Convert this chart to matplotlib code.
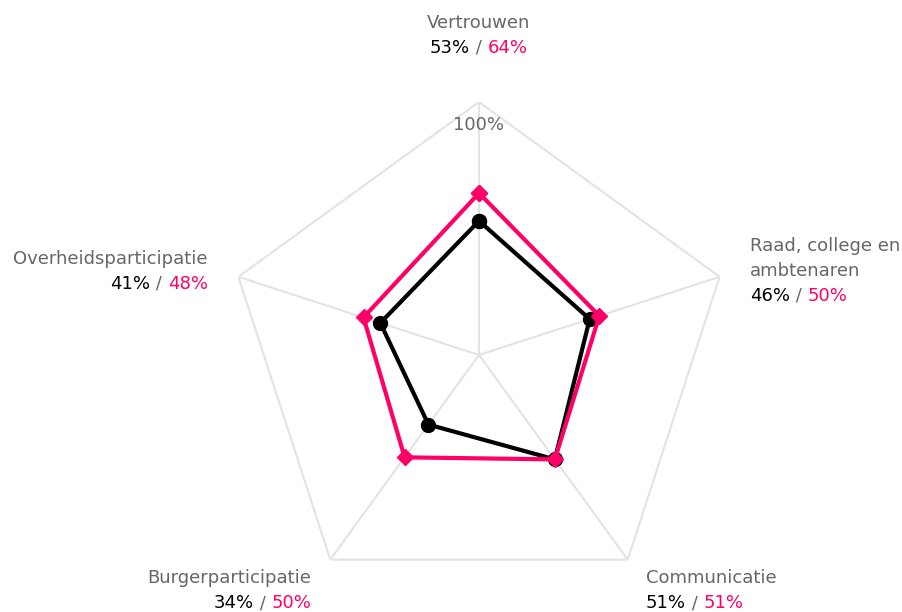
import numpy as np
import matplotlib.pyplot as plt

categories = ['Vertrouwen', 'Raad, college en\nambtenaren', 'Communicatie',
              'Burgerparticipatie', 'Overheidsparticipatie']
series_black = [53, 46, 51, 34, 41]
series_pink = [64, 50, 51, 50, 48]

PINK = '#ff0066'
GRAY = '#666666'
GRID = '#e3e3e3'
FS = 13

fig = plt.figure(figsize=(9.03, 6.12), dpi=100)
ax = fig.add_axes([226 / 903, 4 / 612, 506 / 903, 506 / 612], projection='polar')
ax.set_theta_offset(np.pi / 2)
ax.set_theta_direction(-1)
ax.set_ylim(0, 100)
ax.axis('off')

n = len(categories)
theta = np.arange(n) * 2 * np.pi / n
closed = np.append(theta, theta[0])

# grid: outer pentagon and spokes
ax.plot(closed, [100] * (n + 1), color=GRID, lw=1.5, zorder=1)
for t in theta:
    ax.plot([t, t], [0, 100], color=GRID, lw=1.5, zorder=1)
ax.annotate('100%', (0, 100), xytext=(0, -10), textcoords='offset points',
            color=GRAY, fontsize=FS, ha='center', va='top')

ax.plot(closed, series_black + series_black[:1], color='black', lw=3,
        marker='o', ms=10, zorder=3)
ax.plot(closed, series_pink + series_pink[:1], color=PINK, lw=3,
        marker='D', ms=8, zorder=4)


def label(x, y, name, vb, vp, ha):
    # x, y: pixels from top-left of the last name line's baseline
    fx, fy = x / 903, 1 - y / 612
    lines = name.split('\n')
    for i, ln in enumerate(lines):
        fig.text(fx, fy + (len(lines) - 1 - i) * 25 / 612, ln, color=GRAY,
                 fontsize=FS, ha=ha, va='baseline')
    vy = fy - 25 / 612
    parts = [(f'{vb}%', 'black'), (' / ', GRAY), (f'{vp}%', PINK)]
    if ha == 'center':
        mid = fig.text(fx, vy, parts[1][0], color=parts[1][1], fontsize=FS,
                       ha='center', va='baseline')
        fig.add_artist(plt.Annotation(parts[0][0], xy=(0, 0), xycoords=mid,
                                      color=parts[0][1], fontsize=FS,
                                      ha='right', va='bottom'))
        fig.add_artist(plt.Annotation(parts[2][0], xy=(1, 0), xycoords=mid,
                                      color=parts[2][1], fontsize=FS,
                                      ha='left', va='bottom'))
    elif ha == 'left':
        t = fig.text(fx, vy, parts[0][0], color=parts[0][1], fontsize=FS,
                     ha='left', va='baseline')
        for s, c in parts[1:]:
            t = fig.add_artist(plt.Annotation(s, xy=(1, 0), xycoords=t, color=c,
                                              fontsize=FS, ha='left', va='bottom'))
    else:
        t = fig.text(fx, vy, parts[2][0], color=parts[2][1], fontsize=FS,
                     ha='right', va='baseline')
        for s, c in parts[1::-1]:
            t = fig.add_artist(plt.Annotation(s, xy=(0, 0), xycoords=t, color=c,
                                              fontsize=FS, ha='right', va='bottom'))


label(479, 28, categories[0], series_black[0], series_pink[0], 'center')
label(750, 276, categories[1], series_black[1], series_pink[1], 'left')
label(646, 583, categories[2], series_black[2], series_pink[2], 'left')
label(311, 583, categories[3], series_black[3], series_pink[3], 'right')
label(208, 264, categories[4], series_black[4], series_pink[4], 'right')

fig.savefig('out.png', dpi=100)
